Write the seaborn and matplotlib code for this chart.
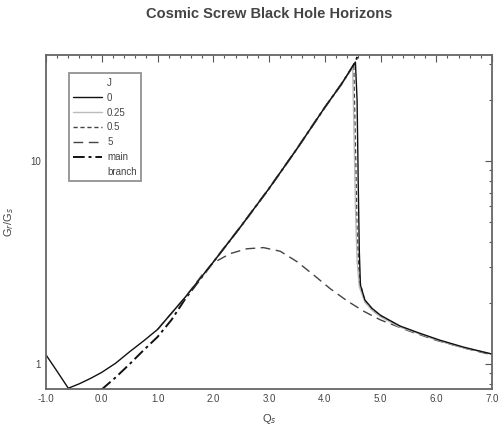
import numpy as np
import pandas as pd
import matplotlib
matplotlib.use("Agg")
import matplotlib.pyplot as plt
import seaborn as sns
from matplotlib.lines import Line2D
from matplotlib.ticker import MultipleLocator, FixedLocator, NullFormatter

# --- data ---
x_j0 = [-1.0, -0.8, -0.6, -0.4, -0.2, 0.0, 0.25, 0.5, 0.75, 1.0, 1.5, 2.0, 2.5, 3.0,
        3.5, 4.0, 4.3, 4.55, 4.58, 4.6, 4.62, 4.64, 4.72, 4.85, 5.0, 5.35, 5.7, 6.07, 6.5, 7.0]
y_j0 = [1.11, 0.92, 0.76, 0.80, 0.85, 0.91, 1.01, 1.15, 1.30, 1.48, 2.14, 3.18, 4.79, 7.33,
        11.5, 18.4, 24.0, 30.8, 20.0, 8.0, 3.6, 2.45, 2.07, 1.88, 1.74, 1.54, 1.42, 1.31, 1.21, 1.12]

x_j025 = [1.0, 1.5, 2.0, 2.5, 3.0, 3.5, 4.0, 4.3, 4.5, 4.52, 4.55, 4.58, 4.62, 4.72, 4.85,
          5.0, 5.35, 5.7, 6.07, 6.5, 7.0]
y_j025 = [1.48, 2.14, 3.18, 4.79, 7.33, 11.5, 18.4, 24.0, 29.2, 16.0, 6.0, 3.2, 2.4, 2.02, 1.84,
          1.71, 1.52, 1.41, 1.30, 1.20, 1.12]

x_j05 = [2.0, 2.5, 3.0, 3.5, 4.0, 4.3, 4.52, 4.55, 4.58, 4.62, 4.72, 4.85, 5.0, 5.35,
         5.7, 6.07, 6.5, 7.0]
y_j05 = [3.18, 4.79, 7.33, 11.5, 18.4, 24.0, 29.8, 12.0, 4.5, 2.6, 2.04, 1.85, 1.72, 1.53,
         1.41, 1.30, 1.20, 1.12]

x_j5 = [1.0, 1.5, 1.8, 2.0, 2.3, 2.6, 2.9, 3.2, 3.5, 3.8, 4.1, 4.4, 4.7, 5.0, 5.5, 6.0, 6.5, 7.0]
y_j5 = [1.48, 2.14, 2.75, 3.15, 3.5, 3.7, 3.75, 3.6, 3.2, 2.75, 2.35, 2.05, 1.82, 1.65,
        1.46, 1.31, 1.20, 1.11]

x_main = [0.0, 0.25, 0.5, 0.75, 1.0, 1.25, 1.5, 2.0, 2.5, 3.0, 3.5, 4.0, 4.3, 4.55, 4.62]
y_main = [0.75, 0.86, 1.0, 1.17, 1.36, 1.65, 2.1, 3.18, 4.79, 7.33, 11.5, 18.4, 24.0, 30.8, 35.0]

series = [
    ("0", x_j0, y_j0, "#111111", "-", 1.0),
    ("0.25", x_j025, y_j025, "#bbbbbb", "-", 1.0),
    ("0.5", x_j05, y_j05, "#444444", (0, (3, 2)), 1.0),
    ("5", x_j5, y_j5, "#444444", (0, (7, 4)), 1.0),
    ("main", x_main, y_main, "#111111", (0, (6, 2, 1.5, 2)), 1.4),
]

sns.set_style("white")
plt.rcParams['font.family'] = ['Liberation Sans', 'DejaVu Sans']

fig = plt.figure(figsize=(5.0, 4.28), dpi=100)
ax = fig.add_axes([0.092, 0.091, 0.892, 0.78])

# draw back to front so the J=0 curve stays on top
for name, xs, ys, col, ls, lw in series[::-1]:
    df = pd.DataFrame({"Qs": xs, "ratio": ys})
    sns.lineplot(data=df, x="Qs", y="ratio", ax=ax, color=col, linestyle=ls,
                 linewidth=lw, sort=False, estimator=None)

ax.set_yscale("log")
ax.set_xlim(-1.0, 7.0)
ax.set_ylim(0.753, 33.3)

ax.xaxis.set_major_locator(MultipleLocator(1.0))
ax.xaxis.set_minor_locator(MultipleLocator(0.2))
ax.set_xticklabels([f"{v:.1f}" for v in ax.get_xticks()])
ax.yaxis.set_major_locator(FixedLocator([1, 10]))
ax.set_yticklabels(["1", "10"])
ax.yaxis.set_minor_formatter(NullFormatter())
ax.tick_params(which="both", direction="in", top=True, right=True, colors="#555555",
               labelcolor="#444444", labelsize=7, width=0.8)
ax.tick_params(which="major", length=5)
ax.tick_params(which="minor", length=2.5)
for sp in ax.spines.values():
    sp.set_color("#666666")
    sp.set_linewidth(1.3)

ax.set_xlabel("Q$_s$", fontsize=8, color="#444444", labelpad=6)
ax.set_ylabel("G$_r$/G$_s$", fontsize=8, color="#444444", labelpad=10)
ax.set_title("Cosmic Screw Black Hole Horizons", fontsize=10.5, fontweight="bold",
             color="#444444", pad=27)

handles = [Line2D([], [], color="none")]
labels = ["J"]
for name, xs, ys, col, ls, lw in series:
    handles.append(Line2D([], [], color=col, linestyle=ls, linewidth=lw))
    labels.append(name)
handles.append(Line2D([], [], color="none"))
labels.append("branch")
leg = ax.legend(handles, labels, loc="upper left", bbox_to_anchor=(0.04, 0.96),
                fontsize=7, frameon=True, fancybox=False, handlelength=3.0,
                labelspacing=0.5, borderpad=0.45, handletextpad=0.5)
leg.get_frame().set_edgecolor("#777777")
leg.get_frame().set_linewidth(1.3)
for t in leg.get_texts():
    t.set_color("#444444")

fig.savefig("out.png", dpi=100)
